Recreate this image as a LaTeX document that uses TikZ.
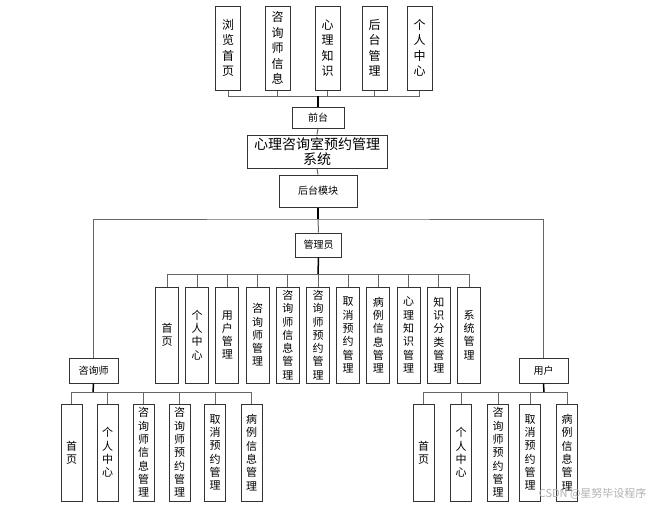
\documentclass[tikz,border=0pt]{standalone}
\usepackage{fontspec}
\newfontfamily\cjk{Noto Sans CJK SC}
\begin{document}
\begin{tikzpicture}[x=1pt,y=-1pt,
  box/.style={draw=black!80,line width=1pt,fill=white,inner sep=0pt,align=center,font=\cjk\fontsize{10}{12}\selectfont},
  topv/.style={box,minimum width=25pt,minimum height=84pt,font=\cjk\fontsize{12}{15.5}\selectfont},
  admv/.style={box,minimum width=23pt,minimum height=96pt,font=\cjk\fontsize{11}{13.3}\selectfont},
  subv/.style={box,minimum width=21pt,minimum height=97pt,font=\cjk\fontsize{11}{13.3}\selectfont},
  conn/.style={draw=black!60,line width=1pt},
  stub/.style={draw=black,line width=1.5pt}]
\useasboundingbox (0,0) rectangle (656,509);
% top modules
\node[topv] (t1) at (228,48) {浏\\览\\首\\页};
\node[topv] (t2) at (277.5,48) {咨\\询\\师\\信\\息};
\node[topv] (t3) at (327.5,48) {心\\理\\知\\识};
\node[topv] (t4) at (374.5,48) {后\\台\\管\\理};
\node[topv] (t5) at (419.5,48) {个\\人\\中\\心};
\node[box,minimum width=52pt,minimum height=21pt] (qt) at (318,117.5) {前台};
\node[box,minimum width=140pt,minimum height=33pt,font=\cjk\fontsize{14}{15}\selectfont] (sys) at (317,151.5) {心理咨询室预约管理\\系统};
\node[box,minimum width=78pt,minimum height=32pt] (ht) at (318,191) {后台模块};
\node[box,minimum width=46pt,minimum height=24pt] (adm) at (318.5,245) {管理员};
\node[box,minimum width=49pt,minimum height=25pt] (zxs) at (93.5,370.5) {咨询师};
\node[box,minimum width=49pt,minimum height=25pt] (usr) at (543.5,370.5) {用户};
\coordinate (tb) at (318,96);
\coordinate (mb) at (318,219);
\coordinate (ab) at (318,274);
\coordinate (cb) at (93,392);
\coordinate (ub) at (544,392);
% admin children
\node[admv] (a1) at (167,335) {首\\页};
\node[admv] (a2) at (197.2,335) {个\\人\\中\\心};
\node[admv] (a3) at (227.4,335) {用\\户\\管\\理};
\node[admv] (a4) at (257.6,335) {咨\\询\\师\\管\\理};
\node[admv] (a5) at (287.8,335) {咨\\询\\师\\信\\息\\管\\理};
\node[admv] (a6) at (318,335) {咨\\询\\师\\预\\约\\管\\理};
\node[admv] (a7) at (348.2,335) {取\\消\\预\\约\\管\\理};
\node[admv] (a8) at (378.4,335) {病\\例\\信\\息\\管\\理};
\node[admv] (a9) at (408.6,335) {心\\理\\知\\识\\管\\理};
\node[admv] (a10) at (438.8,335) {知\\识\\分\\类\\管\\理};
\node[admv] (a11) at (469,335) {系\\统\\管\\理};
% consultant children
\node[subv] (c1) at (71.5,452.5) {首\\页};
\node[subv] (c2) at (107.5,452.5) {个\\人\\中\\心};
\node[subv] (c3) at (143.5,452.5) {咨\\询\\师\\信\\息\\管\\理};
\node[subv] (c4) at (179.5,452.5) {咨\\询\\师\\预\\约\\管\\理};
\node[subv] (c5) at (215,452.5) {取\\消\\预\\约\\管\\理};
\node[subv] (c6) at (251.5,452.5) {病\\例\\信\\息\\管\\理};
% user children
\node[subv] (u1) at (423.5,452.5) {首\\页};
\node[subv] (u2) at (461,452.5) {个\\人\\中\\心};
\node[subv] (u3) at (498,452.5) {咨\\询\\师\\预\\约\\管\\理};
\node[subv] (u4) at (530,452.5) {取\\消\\预\\约\\管\\理};
\node[subv] (u5) at (567,452.5) {病\\例\\信\\息\\管\\理};
% connectors: top
\draw[conn] (t1.south|-tb) -- (t5.south|-tb);
\foreach \n in {t1,t2,t3,t4,t5} \draw[conn] (\n.south) -- (\n.south|-tb);
\draw[stub] (tb) -- (qt.north);
\draw[conn] (qt.south) -- (sys.north);
\draw[conn] (sys.south) -- (ht.north);
\draw[stub] (ht.south) -- (mb);
\draw[conn] (zxs.north) |- (mb) -| (usr.north);
\draw[conn] (mb) -- (adm.north);
% admin
\draw[conn] (a1.north|-ab) -- (a11.north|-ab);
\foreach \n in {a1,a2,a3,a4,a5,a6,a7,a8,a9,a10,a11} \draw[conn] (\n.north) -- (\n.north|-ab);
\draw[stub] (adm.south) -- (ab);
% consultant
\draw[conn] (c1.north|-cb) -- (c6.north|-cb);
\foreach \n in {c1,c2,c3,c4,c5,c6} \draw[conn] (\n.north) -- (\n.north|-cb);
\draw[stub] (zxs.south) -- (cb);
% user
\draw[conn] (u1.north|-ub) -- (u5.north|-ub);
\foreach \n in {u1,u2,u3,u4,u5} \draw[conn] (\n.north) -- (\n.north|-ub);
\draw[stub] (usr.south) -- (ub);
\node[font=\cjk\fontsize{11}{13}\selectfont,text=black!30,anchor=east] (wm) at (650,494) {CSDN @星努毕设程序};
\end{tikzpicture}
\end{document}
